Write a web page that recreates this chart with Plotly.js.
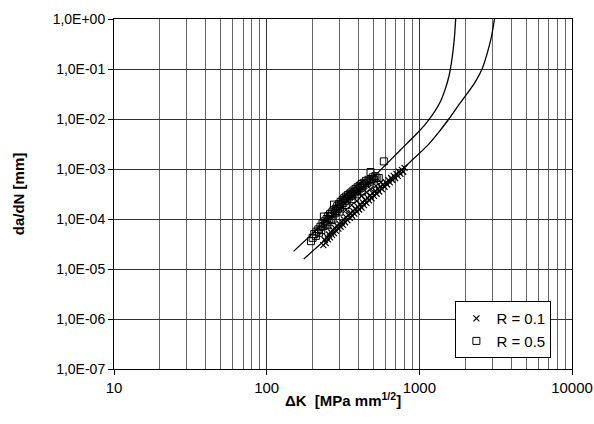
<!DOCTYPE html>
<html>
<head>
<meta charset="utf-8">
<script src="https://cdn.plot.ly/plotly-3.0.1.min.js"></script>
<style>html,body{margin:0;padding:0;background:#fff;}#chart{width:594px;height:424px;}</style>
</head>
<body>
<div id="chart"></div>
<script>
// R = 0.5 measured points (squares)
const dK_R05 = [195,200,205,210,212,218,220,225,228,232,235,237,240,243,247,250,253,257,260,263,267,270,274,276,280,283,287,290,294,298,302,305,310,314,318,322,326,330,335,340,345,350,355,359,364,370,376,382,388,394,400,406,412,418,425,432,440,448,456,465,472,479,485,495,505,515,525,542,585,300,330,360,390,420,250,270];
const da_R05 = [3.6e-5,4.2e-5,5.0e-5,4.6e-5,5.6e-5,6.2e-5,5.3e-5,7.0e-5,6.0e-5,8.1e-5,7.2e-5,1.12e-4,9.0e-5,7.8e-5,1.0e-4,8.6e-5,1.15e-4,1.0e-4,1.25e-4,9.5e-5,1.35e-4,1.15e-4,1.5e-4,1.94e-4,1.3e-4,1.6e-4,1.45e-4,1.8e-4,1.6e-4,2.0e-4,1.7e-4,2.2e-4,1.9e-4,2.4e-4,2.1e-4,2.6e-4,2.3e-4,2.8e-4,2.5e-4,3.0e-4,2.7e-4,3.2e-4,2.9e-4,3.4e-4,3.1e-4,3.7e-4,3.4e-4,4.0e-4,3.6e-4,4.3e-4,3.9e-4,4.6e-4,4.2e-4,5.0e-4,4.5e-4,5.3e-4,4.9e-4,5.8e-4,5.3e-4,6.1e-4,5.6e-4,8.7e-4,6.3e-4,6.8e-4,6.2e-4,7.2e-4,6.6e-4,6.6e-4,1.42e-3,1.4e-4,1.9e-4,2.5e-4,3.1e-4,3.6e-4,7.5e-5,9.8e-5];
// R = 0.1 measured points (crosses)
const dK_R01 = [235,240,244,248,252,256,260,264,268,272,276,280,285,290,295,300,305,310,315,320,326,332,338,344,350,356,362,368,375,382,389,396,403,410,418,426,434,442,450,459,468,477,486,495,505,515,525,535,546,557,568,580,592,604,616,628,641,654,667,680,694,708,722,737,752,768,784,800,330,360,390,420,450,480,520,560];
const da_R01 = [3.0e-5,3.8e-5,3.3e-5,4.4e-5,3.9e-5,4.9e-5,4.3e-5,5.4e-5,4.8e-5,6.0e-5,5.2e-5,6.6e-5,5.8e-5,7.3e-5,6.4e-5,8.0e-5,7.0e-5,8.8e-5,7.7e-5,9.8e-5,8.6e-5,1.08e-4,9.5e-5,1.2e-4,1.05e-4,1.32e-4,1.16e-4,1.45e-4,1.28e-4,1.6e-4,1.4e-4,1.75e-4,1.55e-4,1.95e-4,1.7e-4,2.15e-4,1.9e-4,2.4e-4,2.1e-4,2.65e-4,2.35e-4,2.95e-4,2.6e-4,3.3e-4,2.9e-4,3.65e-4,3.2e-4,4.0e-4,3.55e-4,4.45e-4,3.95e-4,4.9e-4,4.4e-4,5.4e-4,4.9e-4,6.0e-4,5.4e-4,6.6e-4,6.0e-4,7.3e-4,6.6e-4,8.0e-4,7.3e-4,8.8e-4,8.0e-4,9.6e-4,8.8e-4,1.05e-3,1.5e-4,1.9e-4,2.3e-4,2.9e-4,3.4e-4,4.0e-4,4.6e-4,5.4e-4];
// fitted curves
const fitK_R05 = [150,304,503,751,950,1100,1250,1380,1480,1560,1620,1670,1705,1730,1750];
const fitA_R05 = [2.25e-5,1.7e-4,7.0e-4,2.4e-3,4.9e-3,8.0e-3,1.35e-2,2.3e-2,4.0e-2,7.0e-2,1.3e-1,2.6e-1,5.0e-1,1.0,1.6];
const fitK_R01 = [175,392,874,1125,1350,1560,1800,2056,2330,2577,2800,2970,3106,3160];
const fitA_R01 = [1.58e-5,1.45e-4,1.4e-3,2.9e-3,5.6e-3,1.0e-2,1.85e-2,3.2e-2,5.6e-2,1.0e-1,2.2e-1,4.5e-1,1.0,1.6];
const yTickVals = [1e-7,1e-6,1e-5,1e-4,1e-3,1e-2,1e-1,1];
const yTickText = ['1,0E-07','1,0E-06','1,0E-05','1,0E-04','1,0E-03','1,0E-02','1,0E-01','1,0E+00'];
const xTickVals = [10,100,1000,10000];
const xTickText = ['10','100','1000','10000'];
const xMinorVals = [20,30,40,50,60,70,80,90,200,300,400,500,600,700,800,900,2000,3000,4000,5000,6000,7000,8000,9000];

const FONT = 'Liberation Sans, Arial, sans-serif';
const traces = [
  {x: fitK_R05, y: fitA_R05, mode: 'lines', line: {color: '#000', width: 1.3, shape: 'spline', smoothing: 0.5}, showlegend: false, hoverinfo: 'skip'},
  {x: fitK_R01, y: fitA_R01, mode: 'lines', line: {color: '#000', width: 1.3, shape: 'spline', smoothing: 0.5}, showlegend: false, hoverinfo: 'skip'},
  {x: dK_R01, y: da_R01, mode: 'markers', name: 'R = 0.1',
   marker: {symbol: 'x-thin-open', size: 6, color: '#000', line: {color: '#000', width: 1.2}}},
  {x: dK_R05, y: da_R05, mode: 'markers', name: 'R = 0.5',
   marker: {symbol: 'square-open', size: 7, color: '#000', line: {color: '#000', width: 1}}}
];
const layout = {
  width: 594, height: 424,
  margin: {l: 114, r: 22, t: 19, b: 55},
  paper_bgcolor: '#fff', plot_bgcolor: '#fff',
  font: {family: FONT, size: 15, color: '#000'},
  xaxis: {
    type: 'log', range: [1, 4], tickmode: 'array', tickvals: xTickVals, ticktext: xTickText,
    showgrid: true, gridcolor: '#333', gridwidth: 1,
    minor: {tickmode: 'array', tickvals: xMinorVals, showgrid: true, gridcolor: '#666', gridwidth: 1, ticks: ''},
    ticks: 'outside', ticklen: 5, tickcolor: '#000',
    showline: true, linecolor: '#000', linewidth: 1, mirror: true,
    zeroline: false,
    tickfont: {family: FONT, size: 15},
    title: {text: '<b>ΔK  [MPa mm<sup>1/2</sup>]</b>', font: {family: FONT, size: 15}, standoff: 0}
  },
  yaxis: {
    type: 'log', range: [-7, 0], tickmode: 'array', tickvals: yTickVals, ticktext: yTickText,
    showgrid: true, gridcolor: '#333', gridwidth: 1,
    ticks: 'outside', ticklen: 5, tickcolor: '#000',
    showline: true, linecolor: '#000', linewidth: 1, mirror: true,
    zeroline: false,
    tickfont: {family: FONT, size: 14},
    title: {text: '<b>da/dN [mm]</b>', font: {family: FONT, size: 15}, standoff: 24}
  },
  legend: {
    x: 0.955, xanchor: 'right', y: 0.031, yanchor: 'bottom',
    bgcolor: '#fff', bordercolor: '#000', borderwidth: 1,
    font: {family: FONT, size: 15}, itemwidth: 30, tracegroupgap: 0
  },
  showlegend: true
};
Plotly.newPlot('chart', traces, layout, {displayModeBar: false, staticPlot: true});
</script>
</body>
</html>
